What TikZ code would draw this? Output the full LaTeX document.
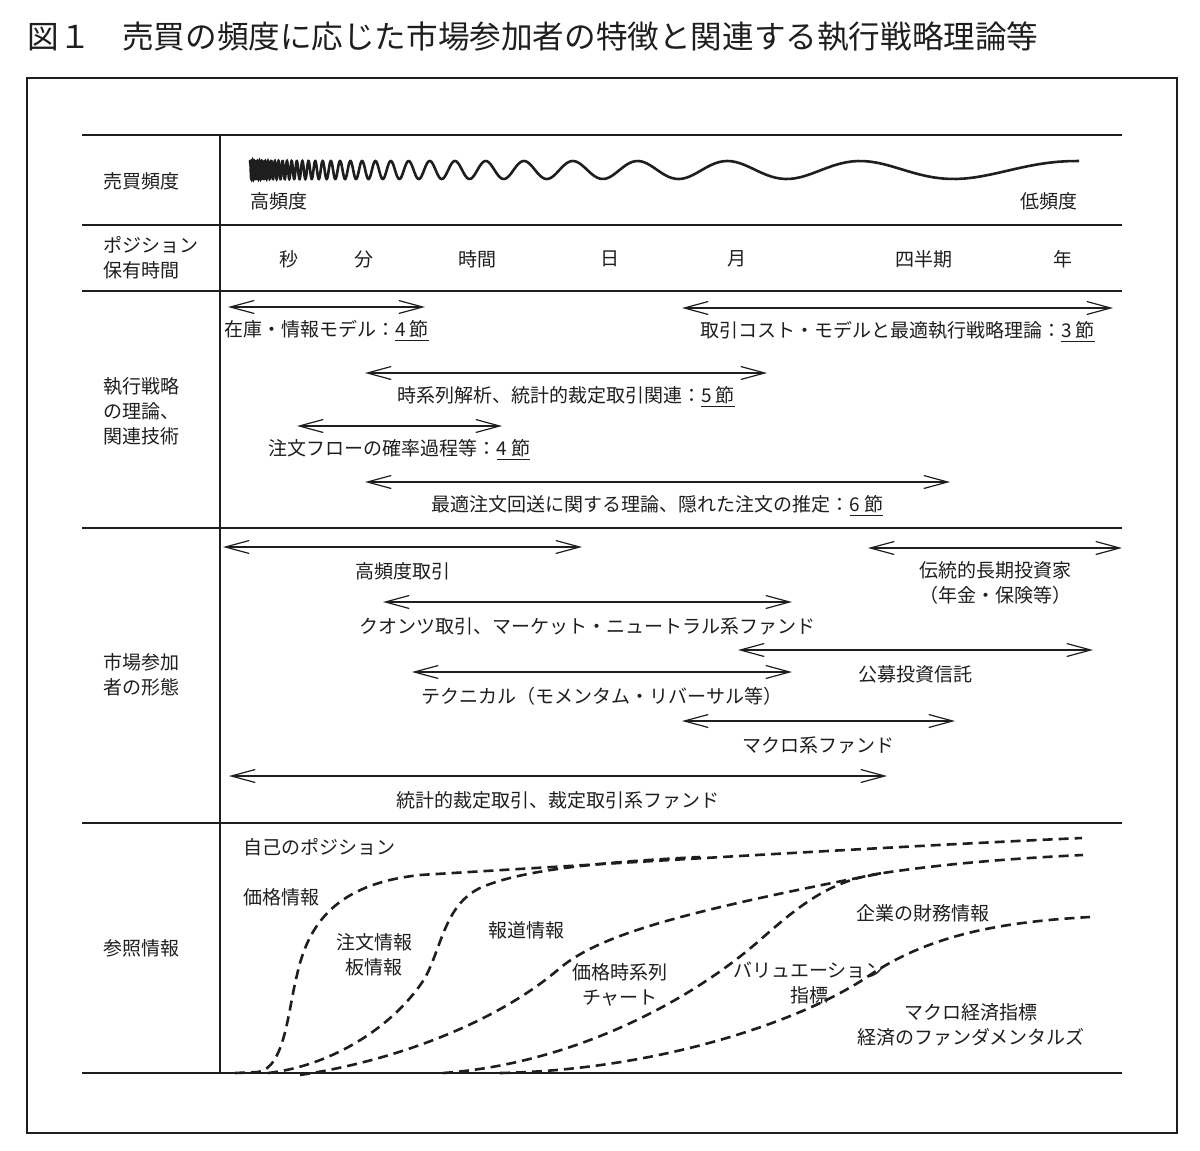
\documentclass[tikz,border=0pt]{standalone}
\usepackage{fontspec}
\setmainfont{Noto Sans CJK JP}
\setsansfont{Noto Sans CJK JP}
\usetikzlibrary{arrows.meta}
\definecolor{ink}{HTML}{1E1E1E}
\tikzset{
  font=\fontsize{9.5}{12.4}\selectfont,
  >={Straight Barb[length=12pt, width=6.5pt]},
  %
  frame/.style={draw=ink, line width=1.1pt},
  rule/.style={draw=ink, line width=0.75pt},
  span/.style={draw=ink, line width=0.6pt, <->},
  wave/.style={draw=ink, line width=1.3pt},
  trend/.style={draw=ink, line width=1.3pt, dash pattern=on 5pt off 3pt},
  %
  ttl/.style={font=\fontsize{15.8}{19}\selectfont, text=ink, inner sep=0pt},
  head/.style={anchor=west, align=left, text=ink, inner sep=0pt},
  lbl/.style={align=center, text=ink, inner sep=0pt},
  under/.style={lbl, yshift=-12pt},
}

\begin{document}
\begin{tikzpicture}[x=0.5pt, y=-0.5pt]
\useasboundingbox (0,0) rectangle (1200,1151);

\node[ttl, anchor=west] (title) at (27,37)
  {図１　売買の頻度に応じた市場参加者の特徴と関連する執行戦略理論等};

% =========================================================================
% frame and table rules
\draw[frame] (27,78) rectangle (1177,1133);
\foreach \y in {135,225,291,528,823,1073}
  \draw[rule] (82,\y) -- (1122,\y);
\draw[rule] (220,135) -- (220,1073);

\node[head] (hfreq)   at (103,181) {売買頻度};
\node[head] (hhold)   at (103,258) {ポジション\\保有時間};
\node[head] (htheory) at (103,411) {執行戦略\\の理論、\\関連技術};
\node[head] (hplayer) at (103,675) {市場参加\\者の形態};
\node[head] (hinfo)   at (103,948) {参照情報};

% =========================================================================
% trading frequency
\draw[wave] plot[domain=19.9:234.2, samples=900, variable=\p]
  ({173+20*(901.5/\p)}, {170-9*cos(57.2958*(\p-26.24))});
\node[lbl, anchor=west] (hifreq) at (250,201) {高頻度};
\node[lbl, anchor=east] (lofreq) at (1078,201) {低頻度};

% holding period
\foreach \x/\t/\n in {289/秒/sec, 364/分/min, 477/時間/hour, 610/日/day,
                      737/月/month, 924/四半期/quarter, 1063/年/year}
  \node[lbl] (\n) at (\x,259) {\t};

% =========================================================================
% execution theory
\coordinate (zaikoL)  at (228,307);  \coordinate (zaikoR)  at (425,307);
\coordinate (costL)   at (682,308);  \coordinate (costR)   at (1113,308);
\coordinate (seriesL) at (365,373);  \coordinate (seriesR) at (767,373);
\coordinate (flowL)   at (297,426);  \coordinate (flowR)   at (502,426);
\coordinate (routeL)  at (365,482);  \coordinate (routeR)  at (950,482);

\draw[span] (zaikoL) -- node[under] (zaiko)
  {在庫・情報モデル：\underline{4 節}} (zaikoR);
\draw[span] (costL) -- node[under] (cost)
  {取引コスト・モデルと最適執行戦略理論：\underline{3 節}} (costR);
\draw[span] (seriesL) -- node[under] (series)
  {時系列解析、統計的裁定取引関連：\underline{5 節}} (seriesR);
\draw[span] (flowL) -- node[under] (flow)
  {注文フローの確率過程等：\underline{4 節}} (flowR);
\draw[span] (routeL) -- node[under] (route)
  {最適注文回送に関する理論、隠れた注文の推定：\underline{6 節}} (routeR);

% =========================================================================
% market participants
\coordinate (hftL)   at (223,547);  \coordinate (hftR)   at (582,547);
\coordinate (longL)  at (868,548);  \coordinate (longR)  at (1122,548);
\coordinate (quantL) at (383,602);  \coordinate (quantR) at (792,602);
\coordinate (fundL)  at (738,650);  \coordinate (fundR)  at (1093,650);
\coordinate (techL)  at (412,672);  \coordinate (techR)  at (792,672);
\coordinate (macroL) at (682,721);  \coordinate (macroR) at (955,721);
\coordinate (arbL)   at (229,776);  \coordinate (arbR)   at (887,776);

\draw[span] (hftL) -- node[under] (hft) {高頻度取引} (hftR);
\draw[span] (longL) -- node[lbl, yshift=-17.5pt] (long)
  {伝統的長期投資家\\（年金・保険等）} (longR);
\draw[span] (quantL) -- node[under] (quant)
  {クオンツ取引、マーケット・ニュートラル系ファンド} (quantR);
\draw[span] (fundL) -- node[under] (fund) {公募投資信託} (fundR);
\draw[span] (techL) -- node[under] (tech)
  {テクニカル（モメンタム・リバーサル等）} (techR);
\draw[span] (macroL) -- node[under] (macro) {マクロ系ファンド} (macroR);
\draw[span] (arbL) -- node[under] (arb)
  {統計的裁定取引、裁定取引系ファンド} (arbR);

% =========================================================================
% reference information
\draw[trend] (235,1073) -- (258,1072) .. controls (285,1068) and (288,1010)
  .. (297,975) .. controls (308,925) and (335,884) .. (420,875)
  .. controls (600,864) and (900,846) .. (1082,838);
\draw[trend] (268,1073) .. controls (330,1066) and (393,1028) .. (425,978)
  .. controls (442,946) and (445,905) .. (480,888)
  .. controls (520,870) and (600,862) .. (700,857);
\draw[trend] (300,1075) .. controls (400,1060) and (500,1020) .. (560,968)
  .. controls (600,935) and (680,912) .. (883,873)
  .. controls (950,863) and (1020,858) .. (1083,855);
\draw[trend] (443,1073) .. controls (560,1065) and (680,1010) .. (760,940)
  .. controls (800,905) and (830,880) .. (883,873);
\draw[trend] (500,1073) .. controls (660,1070) and (805,1020) .. (870,975)
  .. controls (930,935) and (1000,922) .. (1090,917);

\node[lbl, anchor=west] (ownpos) at (243,847) {自己のポジション};
\node[lbl, anchor=west] (price)  at (243,897) {価格情報};
\node[lbl] (order)     at (374,955)  {注文情報\\板情報};
\node[lbl] (news)      at (526,930)  {報道情報};
\node[lbl] (chart)     at (620,985)  {価格時系列\\チャート};
\node[lbl] (valuation) at (809,983)  {バリュエーション\\指標};
\node[lbl] (finance)   at (923,913)  {企業の財務情報};
\node[lbl] (macroinfo) at (971,1025) {マクロ経済指標\\経済のファンダメンタルズ};

\end{tikzpicture}
\end{document}
